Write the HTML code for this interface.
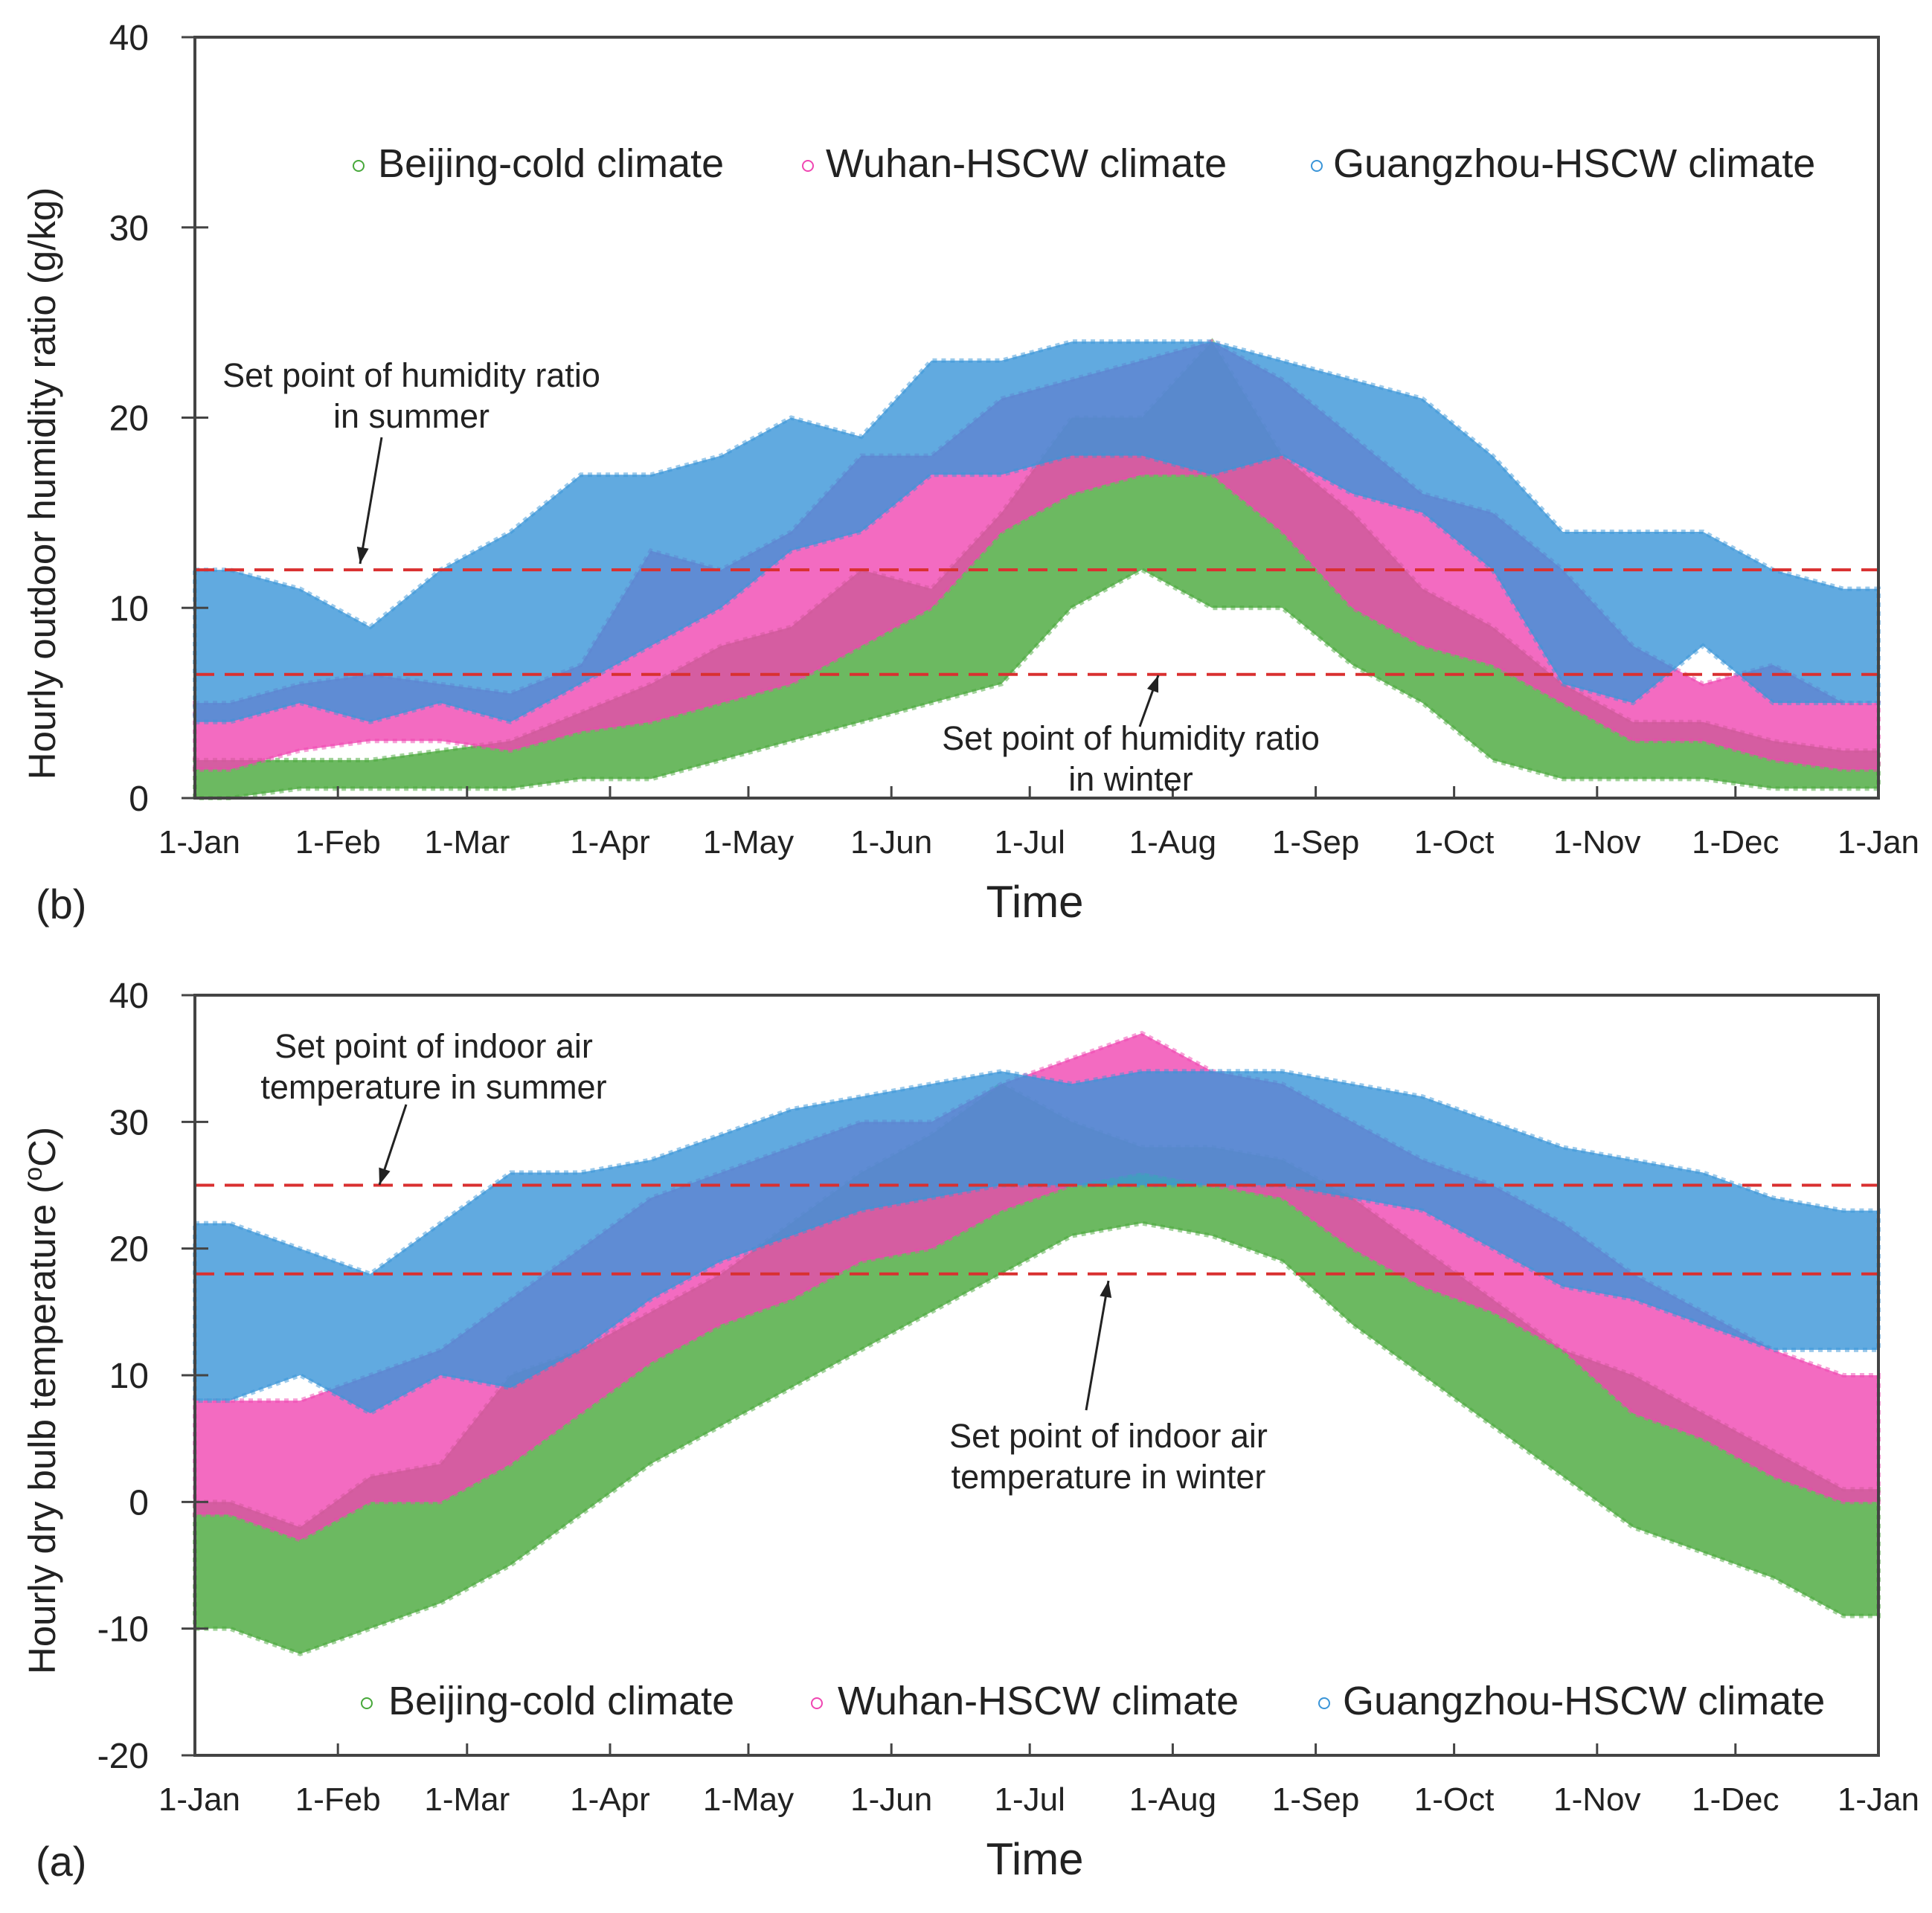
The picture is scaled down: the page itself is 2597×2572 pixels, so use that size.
<!DOCTYPE html>
<html><head><meta charset="utf-8"><style>
html,body{margin:0;padding:0;background:#fff;}
svg{display:block;font-family:"Liberation Sans",Arial,sans-serif;}
</style></head><body>
<svg id="c" width="2597" height="2572" viewBox="0 0 2597 2572"></svg>
<script>
// ---- data (half-month bins, 24 per year) ----
const months = ["1-Jan","1-Feb","1-Mar","1-Apr","1-May","1-Jun","1-Jul","1-Aug","1-Sep","1-Oct","1-Nov","1-Dec","1-Jan"];
const monthDays = [0,31,59,90,120,151,181,212,243,273,304,334,365];
const humTicks = [0,10,20,30,40];
const tempTicks = [-20,-10,0,10,20,30,40];
const seriesNames = ["Beijing-cold climate","Wuhan-HSCW climate","Guangzhou-HSCW climate"];
// humidity ratio (g/kg) low/high per half month
const humBeijingLo = [0,0.5,0.5,0.5,0.5,1,1,2,3,4,5,6,10,12,10,10,7,5,2,1,1,1,0.5,0.5];
const humBeijingHi = [2,2,2,2.5,3,4.5,6,8,9,12,11,15,20,20,24,18,15,11,9,6,4,4,3,2.5];
const humWuhanLo = [1.5,2.5,3,3,2.5,3.5,4,5,6,8,10,14,16,17,17,14,10,8,7,5,3,3,2,1.5];
const humWuhanHi = [5,6,6.5,6,5.5,7,13,12,14,18,18,21,22,23,24,22,19,16,15,12,8,6,7,5];
const humGuangLo = [4,5,4,5,4,6,8,10,13,14,17,17,18,18,17,18,16,15,12,6,5,8,5,5];
const humGuangHi = [12,11,9,12,14,17,17,18,20,19,23,23,24,24,24,23,22,21,18,14,14,14,12,11];
// dry bulb temperature (°C)
const tmpBeijingLo = [-10,-12,-10,-8,-5,-1,3,6,9,12,15,18,21,22,21,19,14,10,6,2,-2,-4,-6,-9];
const tmpBeijingHi = [0,-2,2,3,10,12,15,18,22,26,29,33,30,28,28,27,24,20,16,12,10,7,4,1];
const tmpWuhanLo = [-1,-3,0,0,3,7,11,14,16,19,20,23,25,26,25,24,20,17,15,12,7,5,2,0];
const tmpWuhanHi = [8,8,10,12,16,20,24,26,28,30,30,33,35,37,34,33,30,27,25,22,18,15,12,10];
const tmpGuangLo = [8,10,7,10,9,12,16,19,21,23,24,25,25,25,25,25,24,23,20,17,16,14,12,12];
const tmpGuangHi = [22,20,18,22,26,26,27,29,31,32,33,34,33,34,34,34,33,32,30,28,27,26,24,23];

const NS = "http://www.w3.org/2000/svg";
const svg = document.getElementById("c");
function el(tag, attrs, parent){
  const e = document.createElementNS(NS, tag);
  for (const k in attrs) e.setAttribute(k, attrs[k]);
  (parent||svg).appendChild(e);
  return e;
}
const X0 = 262, X1 = 2525;
const xScale = d => X0 + (X1 - X0) * d / 365;
const colors = ["#47a83a","#f046b2","#3a95d8"];

function panel(opt){
  const g = el("g", {});
  
  
  const yScale = v => opt.yBot + (opt.yTop - opt.yBot) * (v - opt.vMin) / (opt.vMax - opt.vMin);
  const nb = opt.series[0][0].length;
  opt.series.forEach((s, si) => {
    const lo = s[0], hi = s[1];
    const pts = [];
    const cx = i => (i + 0.5) * 365 / nb;
    pts.push([xScale(0), yScale(hi[0])]);
    for (let i = 0; i < nb; i++) pts.push([xScale(cx(i)), yScale(hi[i])]);
    pts.push([xScale(365), yScale(hi[nb-1])]);
    pts.push([xScale(365), yScale(lo[nb-1])]);
    for (let i = nb - 1; i >= 0; i--) pts.push([xScale(cx(i)), yScale(lo[i])]);
    pts.push([xScale(0), yScale(lo[0])]);
    const p = el("polygon", {points: pts.map(q => q.join(",")).join(" "), fill: colors[si], "fill-opacity": 0.8, stroke: colors[si], "stroke-width": 6, "stroke-opacity": 0.5, "stroke-dasharray": "6 6"}, g);
    
    
  });
  opt.setpoints.forEach((v, i) => {
    const l = el("line", {x1: X0, x2: X1, y1: yScale(v), y2: yScale(v), stroke: "#d93030", "stroke-width": 4, "stroke-dasharray": "26 14"}, g);
    
    
  });
  const fr = el("rect", {x: X0, y: opt.yTop, width: X1 - X0, height: opt.yBot - opt.yTop, fill: "none", stroke: "#444", "stroke-width": 4}, g);
  
  
  opt.ticks.forEach(v => {
    const y = yScale(v);
    el("line", {x1: X0 - 18, x2: X0 + 18, y1: y, y2: y, stroke: "#444", "stroke-width": 3}, g);
    const t = el("text", {x: 200, y: y + 17, "text-anchor": "end", "font-size": 48, fill: "#222"}, g);
    t.textContent = v;
    
    
  });
  monthDays.forEach((d, i) => {
    const x = xScale(d);
    el("line", {x1: x, x2: x, y1: opt.yBot, y2: opt.yBot - 16, stroke: "#444", "stroke-width": 3}, g);
    const t = el("text", {x: x + (i === 0 ? 6 : 0), y: opt.yBot + 74, "text-anchor": "middle", "font-size": 44, fill: "#222"}, g);
    t.textContent = months[i];
    
    
  });
  const xt = el("text", {x: 1391, y: opt.yBot + 160, "text-anchor": "middle", "font-size": 60, fill: "#222"}, g);
  xt.textContent = "Time";
  
  
  const pl = el("text", {x: 48, y: opt.yBot + 162, "font-size": 56, fill: "#222"}, g);
  pl.textContent = opt.label;
  
  
  const yt = el("text", {x: 0, y: 0, "text-anchor": "middle", "font-size": 51, fill: "#222", transform: `translate(74,${opt.ytitleY}) rotate(-90)`}, g);
  yt.innerHTML = opt.ytitle;
  
  
  opt.legend.forEach((lg, i) => {
    const m = el("circle", {cx: lg[0], cy: opt.legY - 15, r: 7, fill: "none", stroke: colors[i], "stroke-width": 2}, g);
    
    
    const t = el("text", {x: lg[1], y: opt.legY, "font-size": 54, fill: "#222"}, g);
    t.textContent = seriesNames[i];
    
    
  });
  opt.notes.forEach((n, i) => {
    n.lines.forEach((s, j) => {
      const t = el("text", {x: n.x, y: n.y + j * 55, "text-anchor": "middle", "font-size": 45, fill: "#222"}, g);
      t.textContent = s;
      
      
    });
    const a = el("line", {x1: n.a[0], y1: n.a[1], x2: n.a[2], y2: n.a[3], stroke: "#222", "stroke-width": 3}, g);
    
    
    const dx = n.a[2] - n.a[0], dy = n.a[3] - n.a[1], L = Math.hypot(dx, dy);
    const ux = dx / L, uy = dy / L;
    const bx = n.a[2] - ux * 22, by = n.a[3] - uy * 22;
    el("polygon", {points: `${n.a[2]},${n.a[3]} ${bx - uy * 8},${by + ux * 8} ${bx + uy * 8},${by - ux * 8}`, fill: "#222"}, g);
  });
}

panel({name: "humidity-panel-b", yTop: 50, yBot: 1073, vMin: 0, vMax: 40, ticks: humTicks,
  keys: ["beijing","wuhan","guangzhou"],
  series: [[humBeijingLo, humBeijingHi],[humWuhanLo, humWuhanHi],[humGuangLo, humGuangHi]],
  setpoints: [12, 6.5], label: "(b)", ytitle: "Hourly outdoor humidity ratio (g/kg)", ytitleY: 650,
  legY: 238, legend: [[482,508],[1086,1110],[1770,1792]],
  notes: [{x: 553, y: 520, lines: ["Set point of humidity ratio","in summer"], a: [513,588,484,758]},
          {x: 1520, y: 1008, lines: ["Set point of humidity ratio","in winter"], a: [1532,977,1557,908]}]});

panel({name: "temperature-panel-a", yTop: 1338, yBot: 2360, vMin: -20, vMax: 40, ticks: tempTicks,
  keys: ["beijing","wuhan","guangzhou"],
  series: [[tmpBeijingLo, tmpBeijingHi],[tmpWuhanLo, tmpWuhanHi],[tmpGuangLo, tmpGuangHi]],
  setpoints: [25, 18], label: "(a)", ytitle: "Hourly dry bulb temperature (<tspan font-size='34' dy='-18'>o</tspan><tspan dy='18'>C)</tspan>", ytitleY: 1883,
  legY: 2305, legend: [[493,522],[1098,1126],[1780,1805]],
  notes: [{x: 583, y: 1422, lines: ["Set point of indoor air","temperature in summer"], a: [546,1485,510,1593]},
          {x: 1490, y: 1946, lines: ["Set point of indoor air","temperature in winter"], a: [1460,1896,1490,1722]}]});
</script>
</body></html>
